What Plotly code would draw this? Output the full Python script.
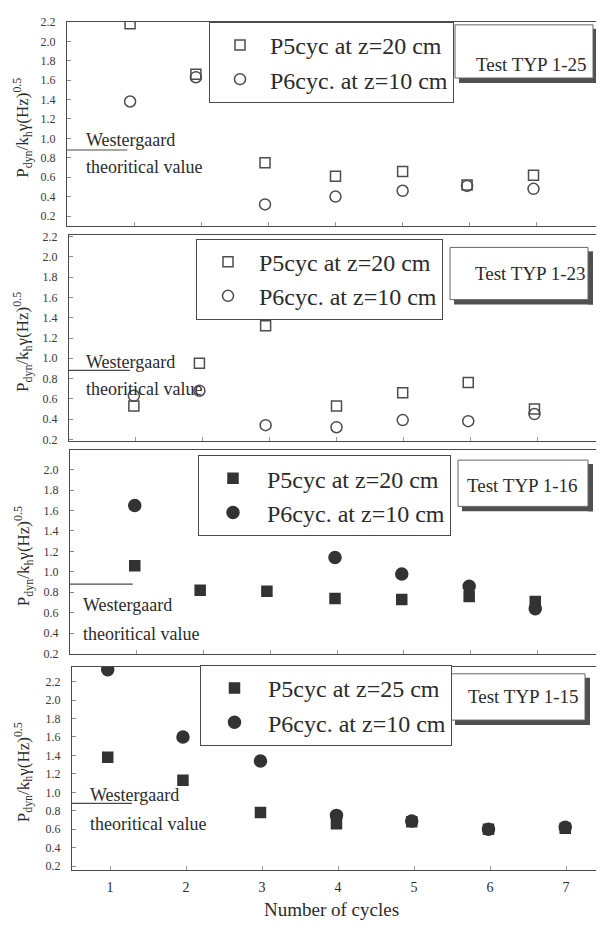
import plotly.graph_objects as go

# ---------------- data ----------------
cycles_p1 = [0.94, 1.92, 2.95, 4.0, 5.0, 5.96, 6.95]
p5_typ125 = [2.18, 1.66, 0.75, 0.61, 0.66, 0.52, 0.62]
p6_typ125 = [1.38, 1.63, 0.32, 0.40, 0.46, 0.51, 0.48]

cycles_p2 = [0.97, 1.95, 2.94, 4.0, 4.99, 5.97, 6.96]
p5_typ123 = [0.53, 0.95, 1.32, 0.53, 0.66, 0.76, 0.50]
p6_typ123 = [0.63, 0.68, 0.34, 0.32, 0.39, 0.38, 0.45]

cycles_p3 = [0.97, 1.95, 2.95, 3.97, 4.97, 5.98, 6.97]
p5_typ116 = [1.06, 0.82, 0.81, 0.74, 0.73, 0.76, 0.71]
p6_typ116 = [1.65, None, None, 1.14, 0.98, 0.86, 0.64]

cycles_p4 = [0.97, 1.96, 2.98, 3.98, 4.97, 5.98, 6.99]
p5_typ115 = [1.38, 1.13, 0.78, 0.66, 0.68, 0.60, 0.61]
p6_typ115 = [2.33, 1.60, 1.34, 0.75, 0.69, 0.60, 0.62]

westergaard = 0.88
tick_cycles = [1, 2, 3, 4, 5, 6, 7]
y_ticks = [0.2, 0.4, 0.6, 0.8, 1.0, 1.2, 1.4, 1.6, 1.8, 2.0, 2.2]

tests = ["Test TYP 1-25", "Test TYP 1-23", "Test TYP 1-16", "Test TYP 1-15"]
p5_names = ["P5cyc at z=20 cm", "P5cyc at z=20 cm", "P5cyc at z=20 cm", "P5cyc at z=25 cm"]
p6_names = ["P6cyc. at z=10 cm"] * 4

# ---------------- layout helpers ----------------
# the page body has an 8px margin, so the figure starts 8px in from the top-left
OFF = 8
W, H = 604 - OFF, 927 - OFF
FONT = "Liberation Serif"
INK = "#2b2b2b"
LINE = "#4a4a4a"


def fx(px):
    return (px - OFF) / W


def fy(py):
    return 1 - (py - OFF) / H


panels = [
    dict(x=(67, 604), y=(15, 222), xr=[0, 8], yr=[0.10, 2.20], cyc=cycles_p1, p5=p5_typ125, p6=p6_typ125,
         filled=False, wl_x=(0, 0.9), leg=(209, 15), iw=50,
         box=(455, 593, 18, 72), txt=(531, 58), west=(84, 135, 162)),
    dict(x=(69, 604), y=(231, 441), xr=[0, 8], yr=[0.18, 2.22], cyc=cycles_p2, p5=p5_typ123, p6=p6_typ123,
         filled=False, wl_x=(0, 0.91), leg=(196, 235), iw=52,
         box=(450, 588, 244, 297), txt=(530, 270), west=(84, 360, 388)),
    dict(x=(70, 604), y=(450, 657), xr=[0, 8], yr=[0.195, 2.19], cyc=cycles_p3, p5=p5_typ116, p6=p6_typ116,
         filled=True, wl_x=(0, 0.94), leg=(198, 455), iw=58,
         box=(458, 588, 460, 507), txt=(522, 486), west=(81, 607, 637)),
    dict(x=(72, 604), y=(670, 876), xr=[0.5, 7.5], yr=[0.16, 2.36], cyc=cycles_p4, p5=p5_typ115, p6=p6_typ115,
         filled=True, wl_x=(0.5, 1.29), leg=(200, 668), iw=57,
         box=(451, 585, 677, 724), txt=(523, 700), west=(88, 800, 830)),
]

fig = go.Figure()
layout = dict(
    width=W, height=H, margin=dict(l=0, r=0, t=0, b=0),
    paper_bgcolor="white", plot_bgcolor="white",
    font=dict(family=FONT, color=INK),
)
shapes, annotations = [], []

for i, p in enumerate(panels):
    n = i + 1
    xa = "x" if n == 1 else f"x{n}"
    ya = "y" if n == 1 else f"y{n}"
    leg = "legend" if n == 1 else f"legend{n}"

    sq = "square" if p["filled"] else "square-open"
    ci = "circle" if p["filled"] else "circle-open"
    col = "#333333" if p["filled"] else "#4d4d4d"

    fig.add_trace(go.Scatter(
        x=p["cyc"], y=p["p5"], mode="markers", name=p5_names[i], xaxis=xa, yaxis=ya,
        legend=leg,
        marker=dict(symbol=sq, size=10, color=col, line=dict(width=1.5, color=col)),
    ))
    fig.add_trace(go.Scatter(
        x=p["cyc"], y=p["p6"], mode="markers", name=p6_names[i], xaxis=xa, yaxis=ya,
        legend=leg,
        marker=dict(symbol=ci, size=12 if p["filled"] else 11, color=col, line=dict(width=1.5, color=col)),
    ))
    fig.add_trace(go.Scatter(
        x=list(p["wl_x"]), y=[westergaard, westergaard], mode="lines", showlegend=False,
        xaxis=xa, yaxis=ya, line=dict(color=LINE, width=1.2), hoverinfo="skip",
    ))

    xkey = "xaxis" if n == 1 else f"xaxis{n}"
    ykey = "yaxis" if n == 1 else f"yaxis{n}"
    layout[xkey] = dict(
        domain=[fx(p["x"][0]), min(1.0, fx(p["x"][1]))], anchor=ya, range=p["xr"],
        tickvals=tick_cycles, ticktext=[str(c) for c in tick_cycles],
        showticklabels=(n == 4), ticks="inside", ticklen=4, tickcolor="#9a9a9a",
        showline=True, mirror=True, linecolor=LINE, linewidth=1,
        showgrid=False, zeroline=False,
        tickfont=dict(family=FONT, size=14, color=INK), ticklabelstandoff=4,
    )
    layout[ykey] = dict(
        domain=[fy(p["y"][1]), fy(p["y"][0])], anchor=xa, range=p["yr"],
        tickvals=y_ticks, ticktext=[f"{v:.1f}" for v in y_ticks],
        ticks="inside", ticklen=4, tickcolor="#8a8a8a",
        showline=True, mirror=False, linecolor=LINE, linewidth=1,
        showgrid=False, zeroline=False,
        tickfont=dict(family=FONT, size=12, color="#3a3a3a"), ticklabelstandoff=8,
    )
    layout[leg] = dict(
        x=fx(p["leg"][0]), y=fy(p["leg"][1]), xanchor="left", yanchor="top",
        bgcolor="white", bordercolor=LINE, borderwidth=1,
        font=dict(family=FONT, size=24, color=INK), itemwidth=p["iw"],
    )

    # "Test TYP" box with drop shadow
    x0, x1, y0, y1 = p["box"]
    shapes.append(dict(type="rect", xref="paper", yref="paper", x0=fx(x1), x1=fx(x1 + 5),
                       y0=fy(y1 + 5), y1=fy(y0 + 4), fillcolor="#505050", line=dict(width=0)))
    shapes.append(dict(type="rect", xref="paper", yref="paper", x0=fx(x0 + 4), x1=fx(x1 + 5),
                       y0=fy(y1 + 5), y1=fy(y1), fillcolor="#505050", line=dict(width=0)))
    shapes.append(dict(type="rect", xref="paper", yref="paper", x0=fx(x0), x1=fx(x1),
                       y0=fy(y1), y1=fy(y0), fillcolor="white", line=dict(color="#666666", width=1)))
    annotations.append(dict(text=tests[i], xref="paper", yref="paper", x=fx(p["txt"][0]), y=fy(p["txt"][1]),
                            xanchor="center", yanchor="middle", showarrow=False,
                            font=dict(family=FONT, size=19, color=INK)))

    # Westergaard labels
    wx, wy1, wy2 = p["west"]
    annotations.append(dict(text="Westergaard", xref="paper", yref="paper", x=fx(wx), y=fy(wy1),
                            xanchor="left", yanchor="middle", showarrow=False,
                            font=dict(family=FONT, size=18, color=INK)))
    annotations.append(dict(text="theoritical value", xref="paper", yref="paper", x=fx(wx), y=fy(wy2),
                            xanchor="left", yanchor="middle", showarrow=False,
                            font=dict(family=FONT, size=18, color=INK)))

    # y-axis title
    annotations.append(dict(text="P<sub>dyn</sub>/k<sub>h</sub>γ(Hz)<sup>0.5</sup>", xref="paper", yref="paper",
                            x=fx(23), y=fy((p["y"][0] + p["y"][1]) / 2 + 4), xanchor="center", yanchor="middle",
                            textangle=-90, showarrow=False, font=dict(family=FONT, size=17, color=INK)))

annotations.append(dict(text="Number of cycles", xref="paper", yref="paper", x=fx(331), y=fy(916),
                        xanchor="center", yanchor="middle", showarrow=False,
                        font=dict(family=FONT, size=19, color=INK)))

layout["shapes"] = shapes
layout["annotations"] = annotations
fig.update_layout(**layout)
fig.write_html("out.html")
